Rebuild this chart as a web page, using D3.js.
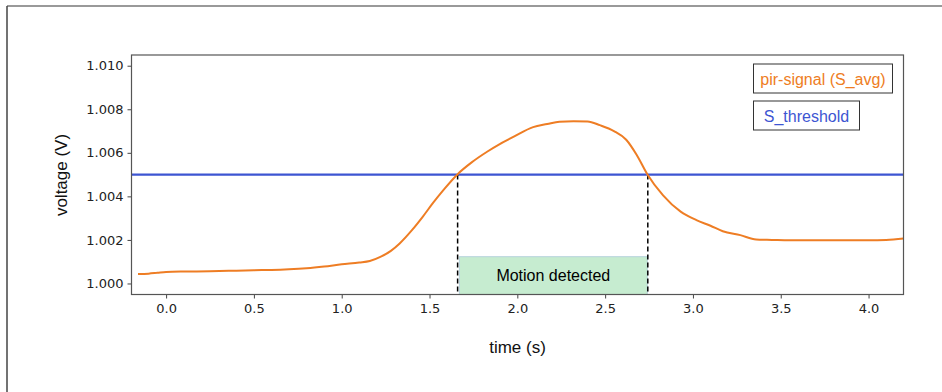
<!DOCTYPE html>
<html>
<head>
<meta charset="utf-8">
<script src="https://cdn.jsdelivr.net/npm/d3@7.9.0/dist/d3.min.js"></script>
<style>
  body { margin: 0; background: #fff; }
  svg { display: block; }
  .tick text { font-family: "DejaVu Sans", sans-serif; font-size: 13px; fill: #222; }
  .lbl { font-family: "Liberation Sans", Arial, sans-serif; font-size: 16px; fill: #111; }
  .axlbl { font-family: "Liberation Sans", Arial, sans-serif; font-size: 17px; fill: #111; }
</style>
</head>
<body>
<svg id="chart" width="942" height="392"></svg>
<script>
// pir signal readings (time in s, voltage in V)
const timeS = [-0.16, -0.10, -0.05, 0.00, 0.10, 0.25, 0.40, 0.50, 0.60, 0.70, 0.80, 0.90,
  1.00, 1.10, 1.16, 1.22, 1.28, 1.33, 1.40, 1.46, 1.52, 1.58, 1.66, 1.74, 1.83, 1.90,
  1.98, 2.09, 2.17, 2.24, 2.32, 2.40, 2.47, 2.55, 2.62, 2.68, 2.74, 2.83, 2.93, 3.02,
  3.10, 3.17, 3.27, 3.36, 3.45, 3.55, 3.70, 3.84, 4.00, 4.10, 4.20];
const voltage = [1.00043, 1.00045, 1.00049, 1.00053, 1.00055, 1.00056, 1.00059, 1.00061,
  1.00062, 1.00065, 1.00070, 1.00078, 1.00088, 1.00096, 1.00103, 1.00122, 1.00150,
  1.00184, 1.00245, 1.00305, 1.00370, 1.00430, 1.00502, 1.00556, 1.00606, 1.00640,
  1.00674, 1.00718, 1.00732, 1.00743, 1.00745, 1.00744, 1.00727, 1.00700, 1.00660,
  1.00590, 1.00502, 1.00405, 1.00330, 1.00291, 1.00265, 1.00240, 1.00222, 1.00202,
  1.00200, 1.00198, 1.00199, 1.00199, 1.00198, 1.00200, 1.00207];

const threshold = 1.005;
const crossings = [1.66, 2.743];
const motionBox = [1.67, 2.74];
const motionTop = 1.00123;

const xTicks = [0.0, 0.5, 1.0, 1.5, 2.0, 2.5, 3.0, 3.5, 4.0];
const yTicks = [1.000, 1.002, 1.004, 1.006, 1.008, 1.010];
const legendItems = ['pir-signal (S_avg)', 'S_threshold'];

const orange = '#ee7d24';
const blue = '#3d55d2';

const margin = { left: 131.5, right: 903.5, top: 55, bottom: 294.5 };

const svg = d3.select('#chart');

// outer frame of the screenshot
svg.append('line').attr('x1', 7).attr('x2', 942).attr('y1', 6).attr('y2', 6)
  .attr('stroke', '#777').attr('stroke-width', 1.5);
svg.append('line').attr('x1', 7).attr('x2', 7).attr('y1', 6).attr('y2', 392)
  .attr('stroke', '#444').attr('stroke-width', 1.5);

let x = d3.scaleLinear().domain([-0.197, 4.199]).range([margin.left, margin.right]);
let y = d3.scaleLinear().domain([0.999494, 1.010492]).range([margin.bottom, margin.top]);

// motion box
svg.append('rect')
  .attr('x', x(motionBox[0]))
  .attr('y', y(motionTop))
  .attr('width', x(motionBox[1]) - x(motionBox[0]))
  .attr('height', y(y.domain()[0]) - y(motionTop))
  .attr('fill', '#c6ecd0')
  .attr('stroke', '#b7d3dc')
  .attr('stroke-width', 1);
svg.append('text').attr('class', 'lbl')
  .attr('x', (x(motionBox[0]) + x(motionBox[1])) / 2)
  .attr('y', (y(motionTop) + margin.bottom) / 2 + 5.5)
  .attr('text-anchor', 'middle')
  .style('fill', '#000')
  .text('Motion detected');

// threshold
svg.append('line')
  .attr('x1', margin.left).attr('x2', margin.right)
  .attr('y1', y(threshold)).attr('y2', y(threshold))
  .attr('stroke', blue).attr('stroke-width', 2.2);

// dashed crossings
crossings.forEach((c) => {
  svg.append('line')
    .attr('x1', x(c)).attr('x2', x(c))
    .attr('y1', y(threshold)).attr('y2', margin.bottom)
    .attr('stroke', '#000').attr('stroke-width', 1.5)
    .attr('stroke-dasharray', '5,3');
});

// signal
let line = d3.line()
  .x((d, i) => x(timeS[i]))
  .y((d) => y(d))
  .curve(d3.curveMonotoneX);
svg.append('path')
  .attr('d', line(voltage))
  .attr('fill', 'none')
  .attr('stroke', orange)
  .attr('stroke-width', 2);

// axes
let xAxis = svg.append('g')
  .attr('transform', `translate(0,${margin.bottom})`)
  .call(d3.axisBottom(x).tickValues(xTicks).tickFormat(d3.format('.1f')).tickSize(4).tickPadding(5));
let yAxis = svg.append('g')
  .attr('transform', `translate(${margin.left},0)`)
  .call(d3.axisLeft(y).tickValues(yTicks).tickFormat(d3.format('.3f')).tickSize(4).tickPadding(4));
[xAxis, yAxis].forEach((g) => {
  g.select('.domain').remove();
  g.selectAll('.tick line').attr('stroke', '#444');
});

// frame
svg.append('rect')
  .attr('x', margin.left).attr('y', margin.top)
  .attr('width', margin.right - margin.left)
  .attr('height', margin.bottom - margin.top)
  .attr('fill', 'none').attr('stroke', '#555').attr('stroke-width', 1.2);

// axis labels
svg.append('text').attr('class', 'axlbl')
  .attr('x', (margin.left + margin.right) / 2).attr('y', 353)
  .attr('text-anchor', 'middle').text('time (s)');
svg.append('text').attr('class', 'axlbl')
  .attr('transform', `translate(67,175) rotate(-90)`)
  .attr('text-anchor', 'middle').text('voltage (V)');

// legend boxes
const legendBoxes = [
  { x: 753.5, y: 64, w: 139, h: 29, color: orange },
  { x: 753.5, y: 101, w: 106, h: 29, color: blue }
];
legendItems.forEach((t, i) => {
  let b = legendBoxes[i];
  svg.append('rect').attr('x', b.x).attr('y', b.y).attr('width', b.w).attr('height', b.h)
    .attr('fill', '#fff').attr('stroke', '#333').attr('stroke-width', 1);
  svg.append('text').attr('class', 'lbl')
    .attr('x', b.x + b.w / 2).attr('y', b.y + b.h / 2 + 6)
    .attr('text-anchor', 'middle')
    .style('fill', b.color)
    .text(t);
});
</script>
</body>
</html>
